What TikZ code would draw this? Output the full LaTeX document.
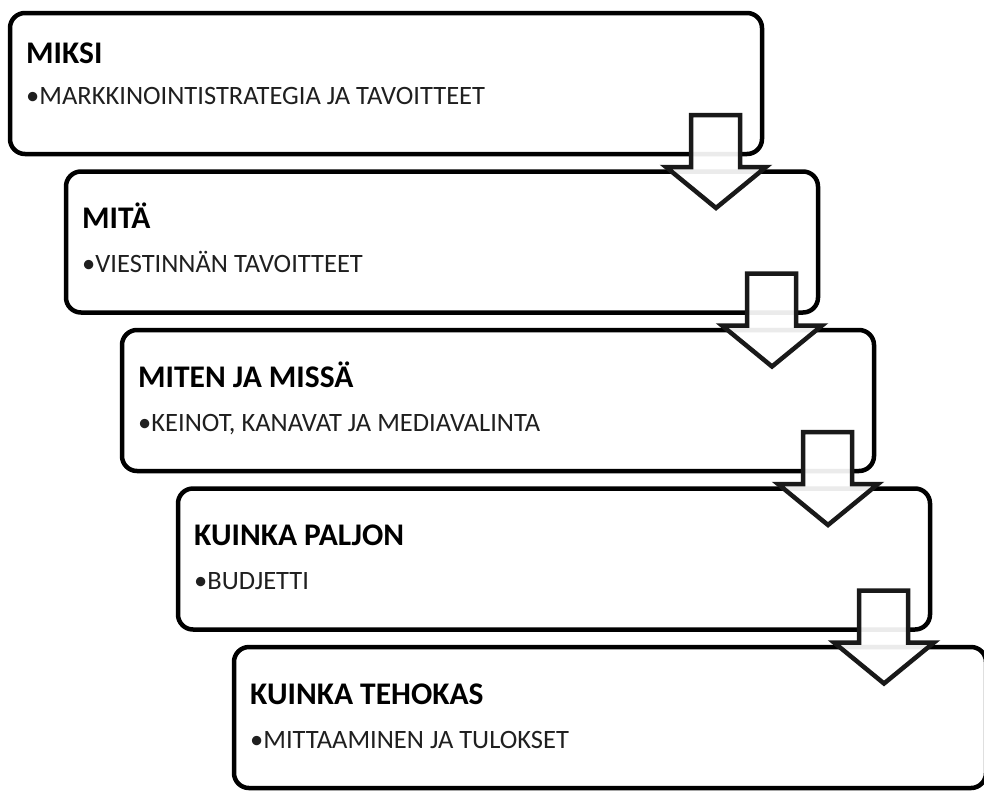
\documentclass[tikz,border=0pt]{standalone}
\usepackage{fontspec}
\setmainfont{Carlito}
\begin{document}
\begin{tikzpicture}[x=1pt,y=-1pt,
  stepbox/.style={draw=black, line width=4.5pt, rounded corners=15pt, fill=white,
    minimum width=752pt, minimum height=141pt, inner sep=0pt, outer sep=0pt, anchor=north west},
  titletext/.style={anchor=base west, inner sep=0pt, font=\fontsize{31.5}{36}\selectfont\bfseries, text=black},
  bodytext/.style={anchor=base west, inner sep=0pt, font=\fontsize{26.5}{30}\selectfont, text=black!88},
  downarrow/.style={draw=black!90, line width=4.5pt, line join=miter, fill=white, fill opacity=0.92, draw opacity=1}]
\useasboundingbox (0,0) rectangle (984,790);
\begin{scope}
\clip (0,0) rectangle (984,790);
\node[stepbox] (b1) at (10,13) {};
\node[stepbox] (b2) at (66,171.5) {};
\node[stepbox] (b3) at (122,330) {};
\node[stepbox] (b4) at (178,488.5) {};
\node[stepbox] (b5) at (234,647) {};
\foreach \b/\ty/\sy/\t/\s in {b1/50/91/MIKSI/MARKKINOINTISTRATEGIA JA TAVOITTEET,
                      b2/57/101/MITÄ/VIESTINNÄN TAVOITTEET,
                      b3/57/101/MITEN JA MISSÄ/{KEINOT, KANAVAT JA MEDIAVALINTA},
                      b4/57/101/KUINKA PALJON/BUDJETTI,
                      b5/57/101/KUINKA TEHOKAS/MITTAAMINEN JA TULOKSET}{
  \node[titletext] (\b t) at ([xshift=16pt,yshift=-\ty pt]\b.north west) {\t};
  \node[bodytext] (\b s) at ([xshift=16pt,yshift=-\sy pt]\b.north west) {•\s};
}
\foreach \b in {b1,b2,b3,b4}{
  \draw[downarrow] ([xshift=-71pt,yshift=39pt]\b.south east) -- ([xshift=-22pt,yshift=39pt]\b.south east)
    -- ([xshift=-22pt,yshift=-13pt]\b.south east) -- ([xshift=4pt,yshift=-13pt]\b.south east)
    -- ([xshift=-46pt,yshift=-54pt]\b.south east) -- ([xshift=-96pt,yshift=-13pt]\b.south east)
    -- ([xshift=-71pt,yshift=-13pt]\b.south east) -- cycle;
}
\end{scope}
\end{tikzpicture}
\end{document}
